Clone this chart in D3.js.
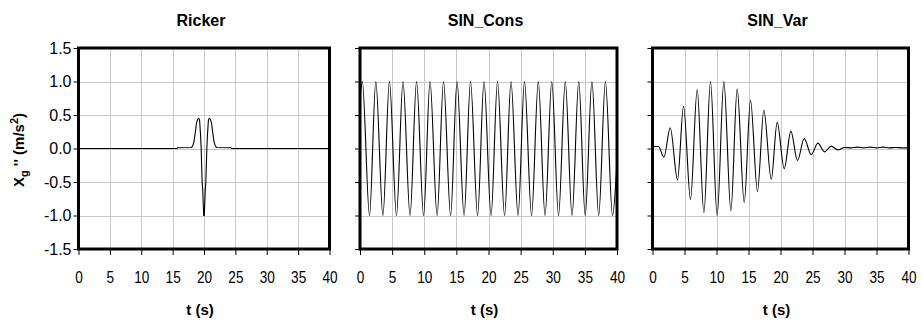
<!DOCTYPE html>
<html>
<head>
<meta charset="utf-8">
<script src="https://cdn.jsdelivr.net/npm/d3@7/dist/d3.min.js"></script>
<style>
  html, body { margin: 0; padding: 0; background: #fff; }
  svg { display: block; }
  text { font-family: "Liberation Sans", Arial, sans-serif; fill: #000; }
</style>
</head>
<body>
<svg id="chart" width="922" height="326"></svg>
<script>
// Ground acceleration records, t in seconds, value in m/s^2
const titles = ["Ricker", "SIN_Cons", "SIN_Var"];
const xTicks = [0, 5, 10, 15, 20, 25, 30, 35, 40];
const yTicks = [-1.5, -1.0, -0.5, 0.0, 0.5, 1.0, 1.5];
const yTickLabels = ["-1.5", "-1.0", "-0.5", "0.0", "0.5", "1.0", "1.5"];

const rickerT = [0, 15.7, 15.8, 18.0, 18.2, 18.4, 18.6, 18.8, 19.0, 19.17, 19.3, 19.45, 19.55, 19.7, 19.8, 19.95,
                 20.05, 20.2, 20.3, 20.45, 20.55, 20.7, 20.83, 21.0, 21.2, 21.4, 21.6, 21.8, 22.0, 24.3, 24.4, 40];
const rickerV = [0, 0, 0.012, 0.015, 0.04, 0.1, 0.23, 0.38, 0.44, 0.45, 0.42, 0.2, 0.0, -0.5, -0.62, -1.0,
                 -1.0, -0.62, -0.5, 0.0, 0.2, 0.42, 0.45, 0.44, 0.38, 0.23, 0.1, 0.04, 0.015, 0.012, 0, 0];

const sinConsT = [0, 0.36, 1.48, 2.46, 3.57, 4.58, 5.68, 6.69, 7.79, 8.8, 9.9, 10.9, 12.0, 13.0, 14.1,
                  15.1, 16.2, 17.2, 18.3, 19.3, 20.4, 21.4, 22.5, 23.5, 24.6, 25.6, 26.7, 27.75, 28.8,
                  29.85, 30.9, 31.95, 33.0, 34.05, 35.05, 36.1, 37.15, 38.2, 39.3, 40];
const sinConsV = [0.7, 1, -1, 1, -1, 1, -1, 1, -1, 1, -1, 1, -1, 1, -1,
                  1, -1, 1, -1, 1, -1, 1, -1, 1, -1, 1, -1, 1, -1,
                  1, -1, 1, -1, 1, -1, 1, -1, 1, -1, -0.2];

const sinVarT = [0, 0.4, 0.94, 1.78, 2.77, 3.91, 4.85, 5.94, 6.98, 8.03, 9.06, 10.1, 11.15, 12.25, 13.23,
                 14.33, 15.31, 16.4, 17.4, 18.55, 19.48, 20.58, 21.62, 22.66, 23.7, 24.8, 25.84, 26.88,
                 27.92, 28.97, 30.0, 31.0, 32.0, 33.0, 34.0, 35.0, 36.0, 37.0, 38.0, 39.0, 40];
const sinVarV = [0.01, 0.03, 0.03, -0.13, 0.31, -0.47, 0.63, -0.76, 0.88, -0.96, 1.0, -1.0, 1.0, -0.93, 0.89,
                 -0.81, 0.72, -0.64, 0.57, -0.46, 0.39, -0.30, 0.26, -0.18, 0.15, -0.09, 0.08, -0.05,
                 0.035, -0.02, 0.015, 0.01, 0.02, 0.01, 0.02, 0.01, 0.02, 0.01, 0.015, 0.01, 0.01];

const series = [
  { title: titles[0], t: rickerT, v: rickerV, curve: d3.curveLinear, x0: 78.5, x1: 329.5, yLabels: true },
  { title: titles[1], t: sinConsT, v: sinConsV, curve: d3.curveMonotoneX, x0: 360, x1: 617, yLabels: false },
  { title: titles[2], t: sinVarT, v: sinVarV, curve: d3.curveMonotoneX, x0: 652.5, x1: 908.5, yLabels: false }
];

const svg = d3.select("#chart");
svg.append("rect").attr("width", 922).attr("height", 326).attr("fill", "#fff");

const yTop = 48, yBottom = 249;
const y = d3.scaleLinear().domain([-1.5, 1.5]).range([yBottom, yTop]);

series.forEach(s => {
  const x = d3.scaleLinear().domain([0, 40]).range([s.x0, s.x1]);
  const g = svg.append("g");

  // grid
  g.append("g").selectAll("line").data(xTicks.slice(1, -1)).join("line")
    .attr("x1", d => Math.round(x(d)) + 0.5).attr("x2", d => Math.round(x(d)) + 0.5)
    .attr("y1", yTop).attr("y2", yBottom)
    .attr("stroke", "#c8c8c8").attr("stroke-width", 1);
  g.append("g").selectAll("line").data(yTicks.slice(1, -1)).join("line")
    .attr("x1", s.x0).attr("x2", s.x1)
    .attr("y1", d => Math.round(y(d)) + 0.5).attr("y2", d => Math.round(y(d)) + 0.5)
    .attr("stroke", "#c8c8c8").attr("stroke-width", 1);

  // series line
  const pts = s.t.map((t, i) => [t, s.v[i]]);
  g.append("path").datum(pts)
    .attr("fill", "none").attr("stroke", "#000").attr("stroke-width", 1.1)
    .attr("d", d3.line().x(d => x(d[0])).y(d => y(d[1])).curve(s.curve));

  // axes
  const xAxis = g.append("g").attr("transform", `translate(0,${yBottom})`)
    .call(d3.axisBottom(x).tickValues(xTicks).tickSize(6).tickPadding(16).tickFormat(d3.format("d")));
  xAxis.select(".domain").remove();
  xAxis.selectAll("text").attr("font-size", 17).attr("transform", "scale(0.8,1)")
    .style("font-family", "'Liberation Sans', Arial, sans-serif");

  const yAxis = g.append("g").attr("transform", `translate(${s.x0},0)`)
    .call(d3.axisLeft(y).tickValues(yTicks).tickSize(5).tickPadding(2)
      .tickFormat((d, i) => s.yLabels ? yTickLabels[i] : ""));
  yAxis.select(".domain").remove();
  yAxis.selectAll("text").attr("font-size", 16)
    .style("font-family", "'Liberation Sans', Arial, sans-serif");
  g.selectAll(".tick line").attr("stroke", "#000");

  // frame
  g.append("rect").attr("x", s.x0).attr("y", yTop)
    .attr("width", s.x1 - s.x0).attr("height", yBottom - yTop)
    .attr("fill", "none").attr("stroke", "#000").attr("stroke-width", 3);

  // titles
  g.append("text").attr("x", (s.x0 + s.x1) / 2 - 3).attr("y", 26)
    .attr("text-anchor", "middle").attr("font-size", 16).attr("font-weight", "bold")
    .text(s.title);
  g.append("text").attr("x", (s.x0 + s.x1) / 2 - 4).attr("y", 315)
    .attr("text-anchor", "middle").attr("font-size", 15).attr("font-weight", "bold")
    .text("t (s)");
});

// y axis title
const yt = svg.append("text")
  .attr("transform", "translate(24,150) rotate(-90)")
  .attr("text-anchor", "middle").attr("font-size", 15).attr("font-weight", "bold");
yt.append("tspan").text("X");
yt.append("tspan").attr("font-size", 11).attr("dy", 4).text("g");
yt.append("tspan").attr("dy", -4).text(" '' (m/s");
yt.append("tspan").attr("font-size", 11).attr("dy", -6).text("2");
yt.append("tspan").attr("dy", 6).text(")");
</script>
</body>
</html>
